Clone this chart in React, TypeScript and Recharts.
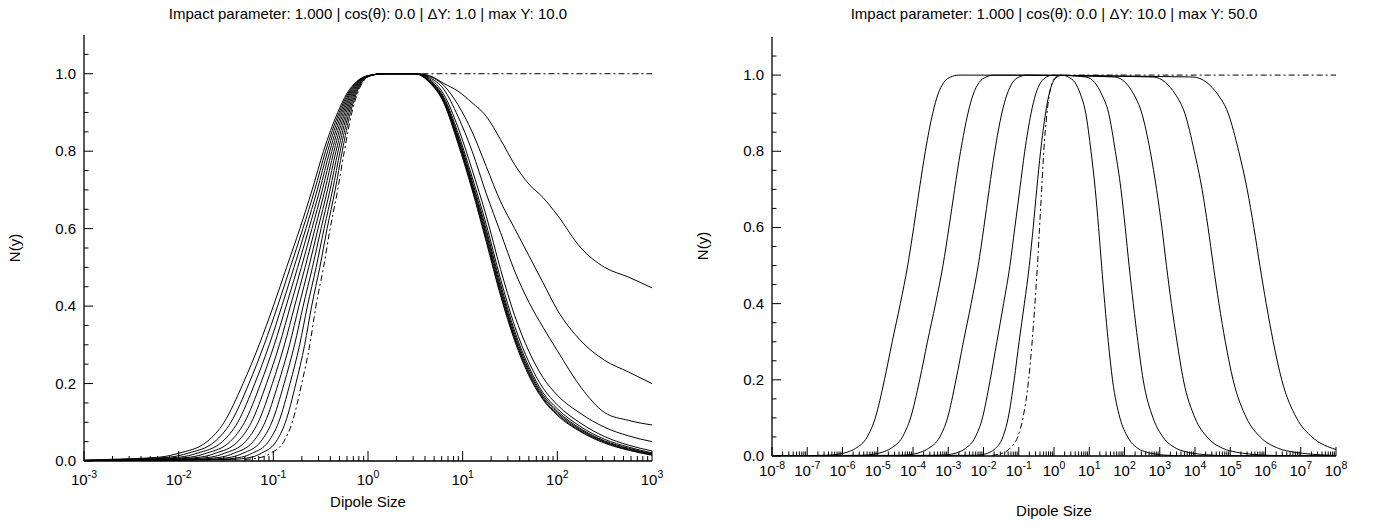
import React from 'react';
import { LineChart, Line, XAxis, YAxis } from 'recharts';

const FONT = '"Liberation Sans", Arial, Helvetica, sans-serif';

const leftTitle = 'Impact parameter: 1.000 | cos(θ): 0.0 | ΔY: 1.0 | max Y: 10.0';
const rightTitle = 'Impact parameter: 1.000 | cos(θ): 0.0 | ΔY: 10.0 | max Y: 50.0';
const xAxisTitle = 'Dipole Size';
const yAxisTitle = 'N(y)';

const leftDecades = [-3, -2, -1, 0, 1, 2, 3];
const rightDecades = [-8, -7, -6, -5, -4, -3, -2, -1, 0, 1, 2, 3, 4, 5, 6, 7, 8];
const minorMultipliers = [2, 3, 4, 5, 6, 7, 8, 9];
const yMajorTicks = [0, 0.2, 0.4, 0.6, 0.8, 1.0];
const yMinorTicks = [0.05, 0.1, 0.15, 0.25, 0.3, 0.35, 0.45, 0.5, 0.55, 0.65, 0.7, 0.75, 0.85, 0.9, 0.95, 1.05];

// ---------- LEFT PANEL (x = log10 dipole size) ----------
// rising edge: N levels, and log10(r) where each curve reaches them
const leftStartLg = -3;
const leftStartN = [0, 0.0002, 0.0004, 0.0006, 0.0008, 0.001, 0.0012, 0.0014, 0.0016, 0.0018, 0.002];
const leftRiseN = [0.004, 0.01, 0.02, 0.05, 0.1, 0.2, 0.3, 0.4, 0.5, 0.6, 0.7, 0.8, 0.9, 0.95, 0.98, 0.995];
const leftRiseLgY0 = [-1.30, -1.12, -1.03, -0.89, -0.80, -0.70, -0.615, -0.55, -0.47, -0.40, -0.32, -0.25, -0.17, -0.11, -0.05, 0.03];
const leftRiseLgY1 = [-1.445, -1.228, -1.127, -0.971, -0.872, -0.762, -0.669, -0.595, -0.509, -0.432, -0.347, -0.272, -0.185, -0.121, -0.057, 0.027];
const leftRiseLgY2 = [-1.59, -1.336, -1.224, -1.052, -0.944, -0.824, -0.722, -0.64, -0.548, -0.464, -0.374, -0.294, -0.20, -0.132, -0.064, 0.024];
const leftRiseLgY3 = [-1.735, -1.444, -1.321, -1.133, -1.016, -0.886, -0.776, -0.685, -0.587, -0.496, -0.401, -0.316, -0.215, -0.143, -0.071, 0.021];
const leftRiseLgY4 = [-1.88, -1.552, -1.418, -1.214, -1.088, -0.948, -0.829, -0.73, -0.626, -0.528, -0.428, -0.338, -0.23, -0.154, -0.078, 0.018];
const leftRiseLgY5 = [-2.025, -1.66, -1.515, -1.295, -1.16, -1.01, -0.883, -0.775, -0.665, -0.56, -0.455, -0.36, -0.245, -0.165, -0.085, 0.015];
const leftRiseLgY6 = [-2.17, -1.768, -1.612, -1.376, -1.232, -1.072, -0.936, -0.82, -0.704, -0.592, -0.482, -0.382, -0.26, -0.176, -0.092, 0.012];
const leftRiseLgY7 = [-2.315, -1.876, -1.709, -1.457, -1.304, -1.134, -0.99, -0.865, -0.743, -0.624, -0.509, -0.404, -0.275, -0.187, -0.099, 0.009];
const leftRiseLgY8 = [-2.46, -1.984, -1.806, -1.538, -1.376, -1.196, -1.043, -0.91, -0.782, -0.656, -0.536, -0.426, -0.29, -0.198, -0.106, 0.006];
const leftRiseLgY9 = [-2.605, -2.092, -1.903, -1.619, -1.448, -1.258, -1.097, -0.955, -0.821, -0.688, -0.563, -0.448, -0.305, -0.209, -0.113, 0.003];
const leftRiseLgY10 = [-2.75, -2.2, -2.0, -1.70, -1.52, -1.32, -1.15, -1.0, -0.86, -0.72, -0.59, -0.47, -0.32, -0.22, -0.12, 0.0];
const leftPeakLg = 0.17;
// falling edge: fixed log10(r) positions, N for each curve
const leftFallLg = [0.5, 0.65, 0.8, 0.95, 1.1, 1.25, 1.4, 1.55, 1.7, 1.85, 2.0, 2.25, 2.5, 2.75, 3.0];
const leftFallY0 = [1, 1, 1, 1, 1, 1, 1, 1, 1, 1, 1, 1, 1, 1, 1];
const leftFallY1 = [1.0, 0.977, 0.925, 0.82, 0.70, 0.565, 0.427, 0.31, 0.22, 0.158, 0.118, 0.075, 0.046, 0.028, 0.015];
const leftFallY2 = [1.0, 0.978, 0.927, 0.825, 0.705, 0.572, 0.433, 0.315, 0.225, 0.161, 0.121, 0.077, 0.048, 0.029, 0.016];
const leftFallY3 = [1.0, 0.98, 0.93, 0.83, 0.71, 0.58, 0.44, 0.32, 0.23, 0.165, 0.125, 0.08, 0.05, 0.031, 0.018];
const leftFallY4 = [1.0, 0.981, 0.933, 0.835, 0.716, 0.588, 0.448, 0.327, 0.236, 0.17, 0.129, 0.083, 0.052, 0.033, 0.019];
const leftFallY5 = [1.0, 0.982, 0.936, 0.84, 0.723, 0.597, 0.457, 0.335, 0.243, 0.176, 0.135, 0.088, 0.056, 0.036, 0.021];
const leftFallY6 = [1.0, 0.984, 0.94, 0.848, 0.733, 0.61, 0.47, 0.348, 0.255, 0.188, 0.145, 0.097, 0.063, 0.041, 0.026];
const leftFallY7 = [1.0, 0.987, 0.947, 0.862, 0.752, 0.632, 0.495, 0.375, 0.283, 0.215, 0.17, 0.122, 0.087, 0.065, 0.05];
const leftFallY8 = [1.0, 0.99, 0.96, 0.89, 0.80, 0.69, 0.59, 0.49, 0.41, 0.345, 0.285, 0.19, 0.125, 0.105, 0.093];
const leftFallY9 = [1.0, 0.993, 0.97, 0.92, 0.85, 0.76, 0.67, 0.60, 0.53, 0.46, 0.39, 0.31, 0.26, 0.23, 0.20];
const leftFallY10 = [1.0, 0.995, 0.975, 0.955, 0.925, 0.89, 0.83, 0.765, 0.715, 0.68, 0.635, 0.55, 0.50, 0.475, 0.447];

// ---------- RIGHT PANEL ----------
// rising edges: N levels and the log10(r) at which each curve reaches them
const rightRiseN = [0.002, 0.005, 0.01, 0.02, 0.05, 0.1, 0.2, 0.3, 0.4, 0.5, 0.6, 0.7, 0.8, 0.9, 0.95, 0.98, 0.995];
const rightRiseLgY50 = [-6.45, -6.09, -5.87, -5.63, -5.30, -5.07, -4.81, -4.59, -4.36, -4.15, -3.98, -3.82, -3.65, -3.44, -3.29, -3.13, -2.93];
const rightRiseLgY40 = [-5.45, -5.09, -4.87, -4.63, -4.30, -4.07, -3.81, -3.59, -3.36, -3.15, -2.98, -2.82, -2.65, -2.44, -2.29, -2.13, -1.93];
const rightRiseLgY30 = [-4.34, -3.99, -3.78, -3.56, -3.24, -3.02, -2.78, -2.57, -2.35, -2.15, -1.99, -1.84, -1.68, -1.48, -1.33, -1.18, -0.99];
const rightRiseLgY20 = [-3.21, -2.90, -2.71, -2.51, -2.23, -2.03, -1.81, -1.62, -1.43, -1.25, -1.11, -0.97, -0.83, -0.65, -0.52, -0.38, -0.21];
const rightRiseLgY10 = [-2.20, -1.96, -1.82, -1.66, -1.45, -1.30, -1.13, -0.99, -0.84, -0.70, -0.59, -0.49, -0.38, -0.24, -0.14, -0.04, 0.09];
const rightRiseLgY0 = [-1.75, -1.55, -1.39, -1.25, -1.03, -0.88, -0.72, -0.62, -0.54, -0.47, -0.41, -0.35, -0.29, -0.20, -0.13, -0.05, 0.05];
// peak (N = 1) positions
const rightPeakLg = [0.25, -0.02, -0.77, -1.70, -2.70];
// falling edges: N levels and log10(r) for each curve
const rightFallN = [0.995, 0.98, 0.95, 0.9, 0.8, 0.7, 0.6, 0.5, 0.4, 0.3, 0.2, 0.1, 0.05, 0.02, 0.01, 0.005, 0.002, 0];
const rightFallLgY10 = [0.40, 0.60, 0.75, 0.90, 1.05, 1.17, 1.265, 1.35, 1.44, 1.54, 1.66, 1.87, 2.09, 2.38, 2.63, 2.88, 3.20, 3.75];
const rightFallLgY20 = [0.90, 1.16, 1.35, 1.55, 1.74, 1.90, 2.02, 2.13, 2.25, 2.38, 2.53, 2.81, 3.09, 3.47, 3.79, 4.12, 4.54, 5.25];
const rightFallLgY30 = [1.72, 2.03, 2.26, 2.49, 2.73, 2.91, 3.06, 3.19, 3.33, 3.49, 3.67, 4.00, 4.34, 4.79, 5.17, 5.56, 6.06, 6.91];
const rightFallLgY40 = [2.81, 3.17, 3.44, 3.71, 3.98, 4.20, 4.37, 4.52, 4.68, 4.86, 5.08, 5.46, 5.85, 6.37, 6.82, 7.27, 7.85];
const rightFallLgY50 = [3.94, 4.34, 4.64, 4.94, 5.24, 5.48, 5.67, 5.84, 6.02, 6.22, 6.46, 6.88, 7.32, 7.90];
const rightEndN = [0, 0, 0, 0.0015, 0.017]; // value at log10(r) = 8 for Y = 10..50

// ---------- builders ----------
type Pt = { x: number; y: number };
const buildLeft = (k: number, riseLg: number[], fall: number[]): Pt[] => {
  const pts: Pt[] = [];
  if (k > 0) pts.push({ x: leftStartLg, y: leftStartN[k] });
  riseLg.forEach((lg, i) => pts.push({ x: lg, y: leftRiseN[i] }));
  pts.push({ x: leftPeakLg, y: 1 });
  leftFallLg.forEach((lg, i) => pts.push({ x: lg, y: fall[i] }));
  return pts;
};
const leftSolid: Pt[][] = [
  buildLeft(1, leftRiseLgY1, leftFallY1),
  buildLeft(2, leftRiseLgY2, leftFallY2),
  buildLeft(3, leftRiseLgY3, leftFallY3),
  buildLeft(4, leftRiseLgY4, leftFallY4),
  buildLeft(5, leftRiseLgY5, leftFallY5),
  buildLeft(6, leftRiseLgY6, leftFallY6),
  buildLeft(7, leftRiseLgY7, leftFallY7),
  buildLeft(8, leftRiseLgY8, leftFallY8),
  buildLeft(9, leftRiseLgY9, leftFallY9),
  buildLeft(10, leftRiseLgY10, leftFallY10),
];
const leftDashed: Pt[] = buildLeft(0, leftRiseLgY0, leftFallY0).filter((p) => p.x >= -1.5);

const buildRight = (rise: number[], peak: number, fall: number[], endN: number): Pt[] => {
  const pts: Pt[] = [{ x: -8, y: 0 }];
  rise.forEach((lg, i) => pts.push({ x: lg, y: rightRiseN[i] }));
  pts.push({ x: peak, y: 1 });
  fall.forEach((lg, i) => pts.push({ x: lg, y: rightFallN[i] }));
  if (pts[pts.length - 1].x < 8) pts.push({ x: 8, y: endN });
  return pts;
};
const rightSolid: Pt[][] = [
  buildRight(rightRiseLgY10, rightPeakLg[0], rightFallLgY10, rightEndN[0]),
  buildRight(rightRiseLgY20, rightPeakLg[1], rightFallLgY20, rightEndN[1]),
  buildRight(rightRiseLgY30, rightPeakLg[2], rightFallLgY30, rightEndN[2]),
  buildRight(rightRiseLgY40, rightPeakLg[3], rightFallLgY40, rightEndN[3]),
  buildRight(rightRiseLgY50, rightPeakLg[4], rightFallLgY50, rightEndN[4]),
];
const rightDashed: Pt[] = [
  ...rightRiseLgY0.map((lg, i) => ({ x: lg, y: rightRiseN[i] })),
  { x: 0.18, y: 1 },
  { x: 8, y: 1 },
];

const buildXTicks = (decades: number[]) => {
  const t: number[] = [...decades];
  decades.slice(0, -1).forEach((d) => minorMultipliers.forEach((m) => t.push(d + Math.log10(m))));
  return t.sort((a, b) => a - b);
};
const yTicks = [...yMajorTicks, ...yMinorTicks].sort((a, b) => a - b);

const isInt = (v: number) => Math.abs(v - Math.round(v)) < 1e-6;
const isYMajor = (v: number) => yMajorTicks.some((m) => Math.abs(m - v) < 1e-6);

const makeXTick = (side: 'bottom' | 'top', majorLen: number, minorLen: number, labelDy: number) => (props: any) => {
  const { x, y, payload } = props;
  const v = payload.value as number;
  const major = isInt(v);
  const len = major ? majorLen : minorLen;
  const y2 = side === 'bottom' ? y - len : y + len;
  return (
    <g>
      <line x1={x} y1={y} x2={x} y2={y2} stroke="#000" strokeWidth={1} />
      {side === 'bottom' && major && (
        <text x={x} y={y + labelDy} textAnchor="middle" fontFamily={FONT} fontSize={15} fill="#000">
          10<tspan dy={-7} fontSize={10.5}>{String(Math.round(v))}</tspan>
        </text>
      )}
    </g>
  );
};

const makeYTick = (side: 'left' | 'right', majorLen: number, minorLen: number) => (props: any) => {
  const { x, y, payload } = props;
  const v = payload.value as number;
  const major = isYMajor(v);
  const len = major ? majorLen : minorLen;
  const x2 = side === 'left' ? x + len : x - len;
  return (
    <g>
      <line x1={x} y1={y} x2={x2} y2={y} stroke="#000" strokeWidth={1} />
      {side === 'left' && major && (
        <text x={x - 8} y={y + 5} textAnchor="end" fontFamily={FONT} fontSize={15} fill="#000">
          {v.toFixed(1)}
        </text>
      )}
    </g>
  );
};

type PanelProps = {
  width: number;
  height: number;
  top: number;
  bottomH: number;
  domain: [number, number];
  decades: number[];
  solid: Pt[][];
  dashed: Pt[];
  xMajor: number;
  xMinor: number;
  labelDy: number;
};

const Panel = ({ width, height, top, bottomH, domain, decades, solid, dashed, xMajor, xMinor, labelDy }: PanelProps) => {
  const xt = buildXTicks(decades);
  const axisLine = { stroke: '#000', strokeWidth: 1.3 };
  return (
    <LineChart width={width} height={height} margin={{ top, right: 38, bottom: 0, left: 0 }}>
      <XAxis xAxisId="b" dataKey="x" type="number" domain={domain} allowDataOverflow ticks={xt} interval={0}
        orientation="bottom" height={bottomH} tickSize={0} tickMargin={0} tickLine={false} axisLine={axisLine}
        tick={makeXTick('bottom', xMajor, xMinor, labelDy)} />
      <XAxis xAxisId="t" dataKey="x" type="number" domain={domain} allowDataOverflow ticks={xt} interval={0}
        orientation="top" height={0} tickSize={0} tickMargin={0} tickLine={false} axisLine={axisLine}
        tick={makeXTick('top', xMajor, xMinor, 0)} />
      <YAxis yAxisId="l" type="number" domain={[0, 1.1]} allowDataOverflow ticks={yTicks} interval={0}
        orientation="left" width={84} tickSize={0} tickMargin={0} tickLine={false} axisLine={axisLine}
        tick={makeYTick('left', 9, 4.5)} />
      <YAxis yAxisId="r" type="number" domain={[0, 1.1]} allowDataOverflow ticks={yTicks} interval={0}
        orientation="right" width={0} tickSize={0} tickMargin={0} tickLine={false} axisLine={axisLine}
        tick={makeYTick('right', 9, 4.5)} />
      {solid.map((d, i) => (
        <Line key={i} xAxisId="b" yAxisId="l" data={d} dataKey="y" type="monotone" stroke="#000"
          strokeWidth={1} dot={false} isAnimationActive={false} />
      ))}
      <Line xAxisId="b" yAxisId="l" data={dashed} dataKey="y" type="monotone" stroke="#000"
        strokeWidth={1} strokeDasharray="6 3 2 3" dot={false} isAnimationActive={false} />
    </LineChart>
  );
};

const textStyle = { fontFamily: FONT, fill: '#000' } as const;

export default function App() {
  return (
    <div style={{ position: 'absolute', left: 0, top: 0, width: 1374, height: 527, background: '#fff' }}>
      <div style={{ position: 'absolute', left: 0, top: 0 }}>
        <Panel width={690} height={527} top={35} bottomH={66} domain={[-3, 3]} decades={leftDecades}
          solid={leftSolid} dashed={leftDashed} xMajor={10} xMinor={5} labelDy={24} />
      </div>
      <div style={{ position: 'absolute', left: 688, top: 0 }}>
        <Panel width={686} height={527} top={37} bottomH={71} domain={[-8, 8]} decades={rightDecades}
          solid={rightSolid} dashed={rightDashed} xMajor={9} xMinor={4.5} labelDy={20} />
      </div>
      <svg width={1374} height={527} style={{ position: 'absolute', left: 0, top: 0, pointerEvents: 'none' }}>
        <text x={368} y={19} textAnchor="middle" fontSize={15} {...textStyle}>{leftTitle}</text>
        <text x={1054} y={19} textAnchor="middle" fontSize={15} {...textStyle}>{rightTitle}</text>
        <text x={368} y={507} textAnchor="middle" fontSize={15} {...textStyle}>{xAxisTitle}</text>
        <text x={1054} y={516} textAnchor="middle" fontSize={15} {...textStyle}>{xAxisTitle}</text>
        <text x={0} y={0} transform="translate(20,248) rotate(-90)" textAnchor="middle" fontSize={15} {...textStyle}>{yAxisTitle}</text>
        <text x={0} y={0} transform="translate(708,246) rotate(-90)" textAnchor="middle" fontSize={15} {...textStyle}>{yAxisTitle}</text>
      </svg>
    </div>
  );
}
